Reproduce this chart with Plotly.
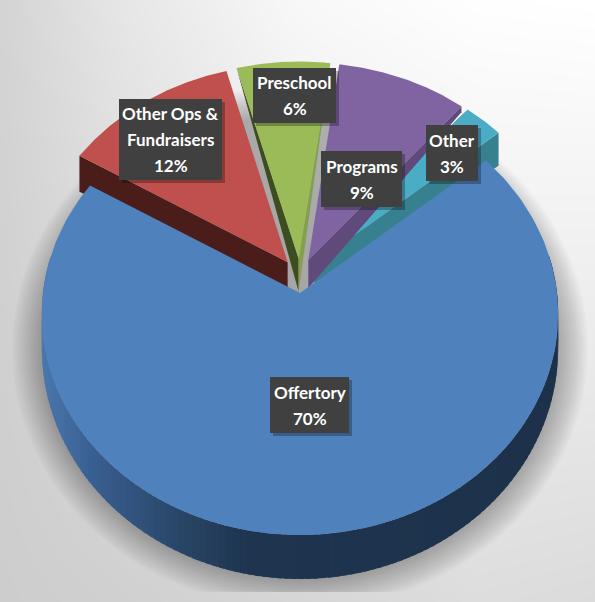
import numpy as np
import plotly.graph_objects as go

# data
categories = ["Offertory", "Other Ops &<br>Fundraisers", "Preschool", "Programs", "Other"]
values = [69.7, 12.1, 6.45, 9.0, 2.75]

# styles
face_colors = ["#4f81bd", "#c0504d", "#9bbb59", "#8064a2", "#4bacc6"]
W, H = 595, 602
CX, CY, A, B, K = 300, 293, 257, 219, 0.095
START = 50.1
EXPLODE, LIFT = 0.08, 17
LINE_H = 26
boxes = [(270, 349, 377, 433), (119, 222, 99, 180), (253, 336, 68, 123),
         (321, 402, 151, 207), (426, 478, 125, 181)]
bg_x = [4, 120, 300, 475, 595]
bg_top = [212, 230, 248, 254, 255]
bg_bottom = [205, 208, 214, 221, 219]


def project(X, Y, lift=0.0, drop=0.0):
    d = 1 + K * Y
    return CX + A * X / d, CY - B * Y / d - lift + drop


def arc(t0, t1, n=80):
    t = np.radians(np.linspace(t0, t1, n))
    return np.sin(t), np.cos(t)


fig = go.Figure()


def poly(x, y, color):
    fig.add_trace(go.Scatter(x=list(x), y=list(y), mode="lines", fill="toself",
                             fillcolor=color, line=dict(width=0), hoverinfo="skip",
                             showlegend=False))


# background
gx = np.linspace(4, W, 50)
gy = np.linspace(3, H, 30)
top = np.interp(gx, bg_x, bg_top)
bot = np.interp(gx, bg_x, bg_bottom)
v = ((gy - 3) / (H - 3))[:, None]
grey = top[None, :] * (1 - v) + bot[None, :] * v
fig.add_trace(go.Heatmap(x=gx, y=gy, z=grey, zmin=0, zmax=255, zsmooth="best",
                         colorscale=[[0, "#000000"], [1, "#ffffff"]], showscale=False,
                         hoverinfo="skip"))

# soft shadow below the pie
sx, sy = arc(0, 360, 160)
for g in np.linspace(30, 1, 15):
    px, py = project(sx, sy, drop=33 - 11 * sy)
    dx, dy = px - CX, py - (CY + 20)
    r = np.hypot(dx, dy)
    poly(CX + dx * (1 + g / r), np.minimum(CY + 20 + dy * (1 + g / r), 592), "rgba(0,0,0,0.018)")

# angular spans, clockwise from the top
ang = np.array(values) * 3.6
spans = {}
t = START
for i, a in enumerate(ang):
    spans[i] = (t, t + a)
    t += a


def slice_geo(i):
    t0, t1 = spans[i]
    mid = np.radians((t0 + t1) / 2)
    return t0, t1, EXPLODE * np.sin(mid), EXPLODE * np.cos(mid)


def side(i, edge, d_outer, d_apex, color):
    t0, t1, ex, ey = slice_geo(i)
    e = np.radians(t0 if edge == 0 else t1)
    ox, oy = ex + np.sin(e), ey + np.cos(e)
    x1, y1 = project(ox, oy, LIFT)
    x2, y2 = project(ex, ey, LIFT)
    poly([x1, x2, x2, x1], [y1, y2, y2 + d_apex, y1 + d_outer], color)


def face(i):
    t0, t1, ex, ey = slice_geo(i)
    X, Y = arc(t0, t1)
    px, py = project(ex + X, ey + Y, LIFT)
    ax, ay = project(ex, ey, LIFT)
    poly(np.r_[ax, px], np.r_[ay, py], face_colors[i])


# exploded slices, back to front
side(4, 0, 0, 22, "#31859c")
side(4, 1, 33, 22, "#37808f")
face(4)
side(3, 1, 6, 28, "#604a7b")
face(3)
side(1, 0, 36, 26, "#4a1c1a")
face(1)
side(2, 0, 0, 33, "#3d4d20")
side(2, 1, 0, 33, "#84a04e")
face(2)


# main slice: rim
def rim_color(x):
    stops_x = [43, 100, 180, 250, 600]
    c = [np.interp(x, stops_x, s) for s in ([74, 56, 42, 31, 29], [120, 93, 71, 53, 49], [173, 143, 104, 80, 73])]
    return "rgb(%d,%d,%d)" % tuple(c)


t0, t1 = spans[0]
edges = np.linspace(t0, t1, 170)
for a0, a1 in list(zip(edges[:-1], edges[1:]))[::-1]:
    X, Y = arc(a0, a1 + 1.0, 4)
    px, py = project(X, Y)
    py2 = py + (33 - 11 * Y)
    if py.max() > CY - 30:
        poly(np.r_[px, px[::-1]], np.r_[py, py2[::-1]], rim_color(px.mean()))
face_x, face_y = arc(t0, t1, 200)
px, py = project(face_x, face_y)
poly(np.r_[CX, px], np.r_[CY, py], face_colors[0])

# labels
shapes, notes = [], []
for (x0, x1, y0, y1), name, val in zip(boxes, categories, values):
    shapes.append(dict(type="rect", x0=x0 + 3, x1=x1 + 3, y0=y0 + 3, y1=y1 + 3,
                       fillcolor="rgba(0,0,0,0.28)", line=dict(width=0), layer="above"))
    shapes.append(dict(type="rect", x0=x0, x1=x1, y0=y0, y1=y1,
                       fillcolor="#404040", line=dict(width=0), layer="above"))
    lines = name.split("<br>") + [f"{round(val)}%"]
    mid = (y0 + y1) / 2
    for j, ln in enumerate(lines):
        notes.append(dict(x=(x0 + x1) / 2, y=mid + (j - (len(lines) - 1) / 2) * LINE_H,
                          text=f"<b>{ln}</b>", showarrow=False, xanchor="center",
                          yanchor="middle", align="center",
                          font=dict(family="Lato", size=17, color="#ffffff")))

fig.update_layout(width=W, height=H, margin=dict(l=0, r=0, t=0, b=0), autosize=False,
                  paper_bgcolor="#ffffff", plot_bgcolor="#ffffff", shapes=shapes,
                  annotations=notes, showlegend=False,
                  xaxis=dict(range=[0, W], visible=False, fixedrange=True),
                  yaxis=dict(range=[H, 0], visible=False, fixedrange=True))
fig.write_html("out.html", config=dict(displayModeBar=False),
               post_script="document.body.style.margin='0';document.documentElement.style.overflow='hidden';")
